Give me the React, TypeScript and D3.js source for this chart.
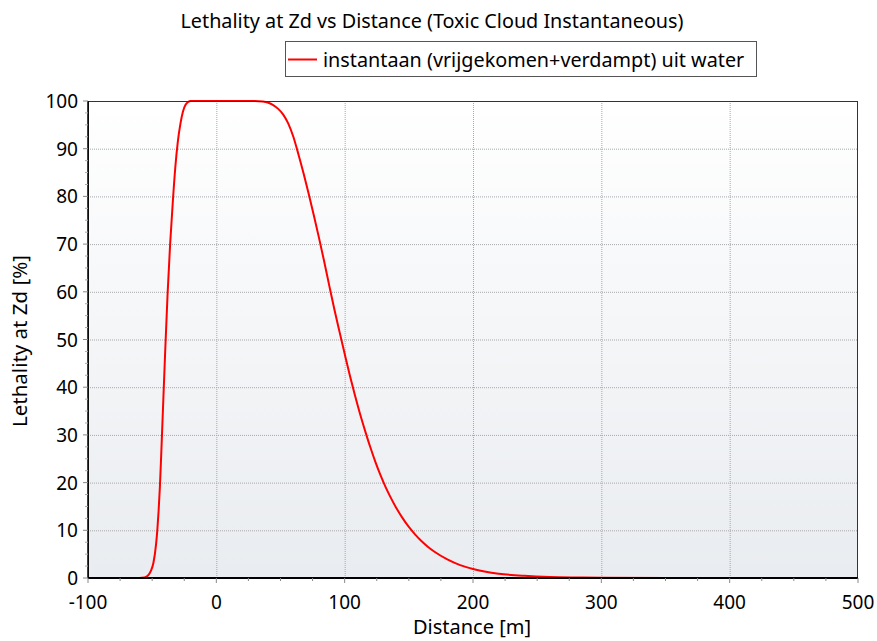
import React from "react";
import * as d3 from "d3";

const distances = [-100, -60, -56, -53, -51, -49, -47, -46, -45, -44, -43, -42, -40, -38, -36, -34, -32, -30, -28, -26, -24, -22, -20, -10, 0, 10, 20, 30, 36, 40, 44, 48, 52, 56, 60, 64, 68, 72, 76, 80, 84, 88, 92, 96, 100, 104, 108, 112, 116, 120, 124, 128, 132, 136, 140, 145, 150, 155, 160, 165, 170, 180, 190, 200, 210, 220, 240, 260, 280, 300, 350, 400, 500];
const lethality = [0, 0, 0.1, 0.6, 1.5, 3.2, 7, 10, 14, 19, 25.5, 32.5, 46.5, 59.5, 70, 78.5, 86, 91.5, 95.2, 97.8, 99.2, 99.8, 100, 100, 100, 100, 100, 100, 99.9, 99.7, 99.2, 98.4, 97.2, 95.3, 92.5, 88.8, 84.8, 80.5, 76, 71.3, 66.4, 61.3, 56.3, 51.6, 47, 42.5, 38.3, 34.4, 30.8, 27.4, 24.3, 21.5, 19, 16.8, 14.8, 12.6, 10.7, 9.1, 7.7, 6.5, 5.5, 3.9, 2.7, 1.9, 1.3, 0.9, 0.45, 0.2, 0.1, 0.05, 0.01, 0, 0];
const xTicks = [-100, 0, 100, 200, 300, 400, 500];
const yTicks = [0, 10, 20, 30, 40, 50, 60, 70, 80, 90, 100];
const titleText = "Lethality at Zd vs Distance (Toxic Cloud Instantaneous)";
const seriesName = "instantaan (vrijgekomen+verdampt) uit water";
const xLabel = "Distance [m]";
const yLabel = "Lethality at Zd [%]";

const W = 877, H = 641;
const L = 88, R = 858, T = 101, B = 578;
const FONT = "'Noto Sans', 'Open Sans', sans-serif";

export default function App() {
  const x = d3.scaleLinear().domain([-100, 500]).range([L, R]);
  const y = d3.scaleLinear().domain([0, 100]).range([B, T]);
  const pts = distances.map((d, i) => [d, lethality[i]] as [number, number]);
  const line = d3.line<[number, number]>().x(d => x(d[0])).y(d => y(d[1])).curve(d3.curveMonotoneX);
  const xMinor = d3.range(-100, 501, 25).filter(v => v % 100 !== 0);
  const yMinor = d3.range(0, 100.1, 2.5).filter(v => v % 10 !== 0);

  return (
    <svg width={W} height={H} style={{ position: "absolute", left: 0, top: 0, background: "#fff" }}>
      <defs>
        <linearGradient id="bg" x1="0" y1="0" x2="0" y2="1">
          <stop offset="0" stopColor="#ffffff" />
          <stop offset="1" stopColor="#e9ecf0" />
        </linearGradient>
        <clipPath id="clip"><rect x={L} y={T - 2} width={R - L} height={B - T + 2} /></clipPath>
      </defs>
      <text x={432} y={28} textAnchor="middle" fontFamily={FONT} fontSize={19.8} fill="#000">{titleText}</text>
      <rect x={285.5} y={41.5} width={471} height={35} fill="#fff" stroke="#555" strokeWidth={1} />
      <line x1={288} x2={317} y1={59.5} y2={59.5} stroke="#ff0000" strokeWidth={2} />
      <text x={323} y={66.5} fontFamily={FONT} fontSize={19.8} fill="#000">{seriesName}</text>

      <rect x={L} y={T} width={R - L} height={B - T} fill="url(#bg)" />
      {xTicks.slice(1, -1).map(v => (
        <line key={"gx" + v} x1={x(v) + 0.5} x2={x(v) + 0.5} y1={T} y2={B} stroke="#a8a8a8" strokeDasharray="1,1" />
      ))}
      {yTicks.slice(1, -1).map(v => (
        <line key={"gy" + v} x1={L} x2={R} y1={y(v) + 0.5} y2={y(v) + 0.5} stroke="#a8a8a8" strokeDasharray="1,1" />
      ))}
      <path d={line(pts) || ""} fill="none" stroke="#ff0000" strokeWidth={2} clipPath="url(#clip)" />
      <rect x={L + 0.5} y={T + 0.5} width={R - L - 1} height={B - T - 1} fill="none" stroke="#333" strokeWidth={1} />
      <line x1={L} x2={R} y1={B} y2={B} stroke="#000" strokeWidth={2} />
      <line x1={L} x2={L} y1={T} y2={B} stroke="#000" strokeWidth={1.5} />

      {xTicks.map(v => (
        <g key={"xt" + v}>
          <line x1={x(v)} x2={x(v)} y1={B} y2={B + 5} stroke="#888" />
          <text x={x(v)} y={609} textAnchor="middle" fontFamily={FONT} fontSize={19} fill="#000">{v}</text>
        </g>
      ))}
      {xMinor.map(v => (
        <line key={"xm" + v} x1={x(v)} x2={x(v)} y1={B} y2={B + 3} stroke="#888" />
      ))}
      {yTicks.map(v => (
        <g key={"yt" + v}>
          <line x1={L - 5} x2={L} y1={y(v)} y2={y(v)} stroke="#888" />
          <text x={78} y={y(v) + 7} textAnchor="end" fontFamily={FONT} fontSize={19} fill="#000">{v}</text>
        </g>
      ))}
      {yMinor.map(v => (
        <line key={"ym" + v} x1={L - 3} x2={L} y1={y(v)} y2={y(v)} stroke="#aaa" />
      ))}
      <text x={472} y={634} textAnchor="middle" fontFamily={FONT} fontSize={20} fill="#000">{xLabel}</text>
      <text transform={`translate(27,341) rotate(-90)`} textAnchor="middle" fontFamily={FONT} fontSize={20.5} fill="#000">{yLabel}</text>
    </svg>
  );
}
